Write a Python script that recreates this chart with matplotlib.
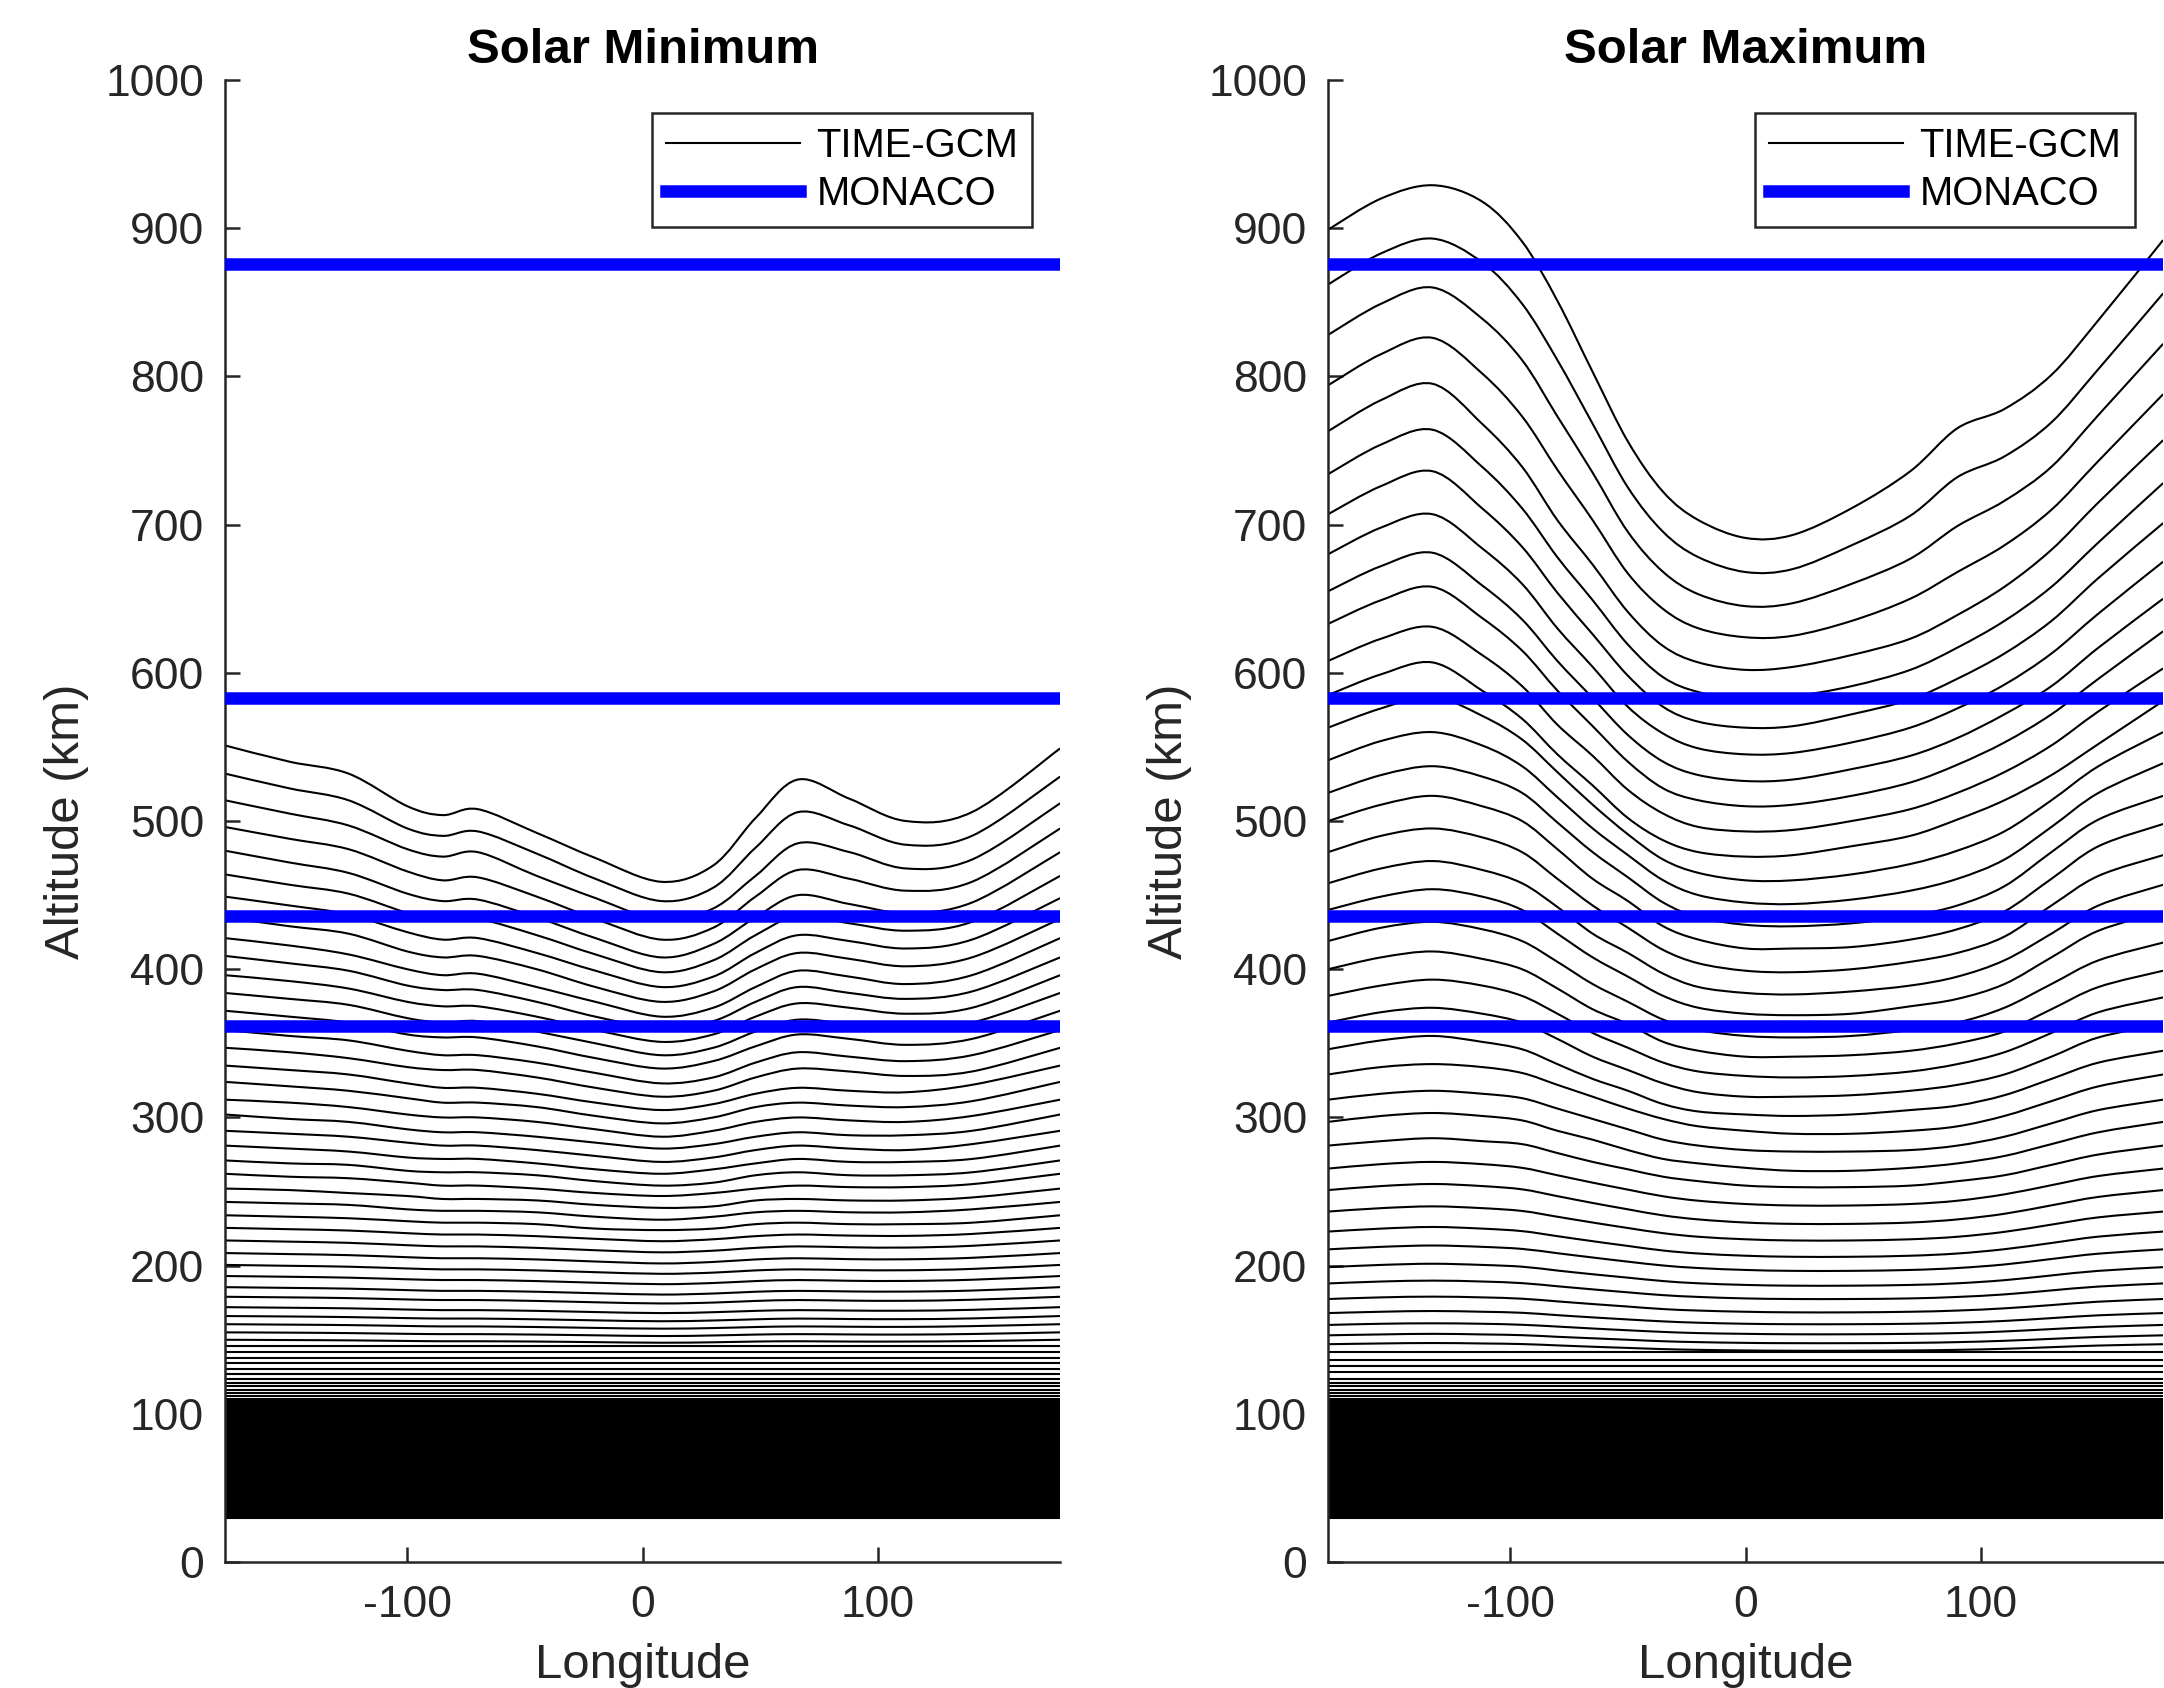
import matplotlib
matplotlib.use("Agg")
import matplotlib.pyplot as plt
from matplotlib.lines import Line2D
from matplotlib.path import Path
from matplotlib.patches import PathPatch

plt.rcParams["font.family"] = ["Liberation Sans", "DejaVu Sans"]
plt.rcParams["axes.unicode_minus"] = False

lon_min = [-177.5, -150, -125, -100, -85, -70, -45, -20, 8, 30, 48, 66, 88, 112, 140, 177.5]
lon_max = [-177.5, -155, -133, -112, -95, -80, -65, -50, -35, -20, 0, 20, 45, 70, 90, 110, 130, 150, 177.5]

# solar minimum: altitude (km) of each wavy pressure level along lon_min
alt_min = [
    [551, 540, 532, 510, 504, 508, 492, 475, 459, 470, 502, 528, 515, 500, 506, 549],
    [532, 522, 514, 495, 490, 493, 478, 461, 446, 455, 482, 506, 497, 484, 490, 530],
    [514, 505, 497, 481, 476, 479, 463, 448, 433, 441, 463, 485, 479, 468, 474, 512],
    [496, 488, 481, 466, 460, 462, 449, 434, 420, 428, 449, 467, 461, 453, 459, 495],
    [480, 472, 465, 451, 446, 447, 435, 421, 408, 417, 435, 450, 444, 438, 445, 479],
    [464, 457, 451, 438, 433, 434, 423, 410, 398, 406, 423, 436, 431, 426, 432, 463],
    [449, 443, 437, 425, 420, 421, 411, 399, 388, 395, 411, 423, 419, 414, 420, 448],
    [435, 429, 424, 412, 408, 409, 400, 388, 378, 385, 400, 411, 407, 402, 408, 434],
    [421, 416, 410, 400, 396, 397, 388, 378, 368, 374, 388, 399, 395, 390, 396, 421],
    [409, 404, 399, 389, 386, 386, 378, 368, 360, 365, 378, 388, 384, 380, 385, 408],
    [396, 392, 387, 378, 375, 375, 368, 359, 351, 356, 368, 377, 374, 370, 374, 396],
    [384, 380, 376, 367, 364, 365, 358, 350, 342, 347, 358, 366, 363, 360, 364, 384],
    [372, 368, 364, 356, 354, 354, 348, 340, 333, 338, 348, 356, 353, 349, 353, 372],
    [359, 355, 352, 345, 342, 342, 337, 330, 323, 327, 337, 344, 341, 338, 342, 359],
    [347, 344, 340, 334, 332, 332, 327, 320, 314, 318, 327, 333, 331, 328, 331, 347],
    [335, 332, 329, 323, 320, 320, 316, 310, 305, 309, 316, 320, 318, 317, 322, 335],
    [324, 321, 318, 313, 310, 310, 307, 301, 296, 300, 307, 310, 308, 307, 311, 324],
    [312, 310, 307, 302, 300, 300, 297, 292, 287, 291, 297, 300, 298, 297, 301, 312],
    [302, 299, 297, 292, 290, 290, 287, 283, 279, 282, 287, 290, 288, 288, 291, 302],
    [291, 289, 287, 283, 281, 281, 278, 274, 270, 273, 278, 281, 279, 278, 282, 291],
    [281, 279, 277, 273, 272, 272, 269, 265, 262, 265, 269, 272, 270, 270, 272, 281],
    [271, 269, 268, 264, 263, 263, 261, 257, 254, 256, 261, 263, 261, 261, 263, 271],
    [262, 260, 259, 256, 254, 254, 252, 249, 247, 249, 252, 254, 253, 253, 255, 262],
    [252, 251, 249, 247, 245, 245, 244, 241, 239, 240, 244, 245, 244, 244, 246, 252],
    [243, 242, 241, 238, 237, 237, 236, 233, 231, 233, 236, 237, 236, 236, 238, 243],
    [234, 233, 232, 230, 229, 229, 228, 225, 224, 225, 228, 229, 228, 228, 229, 234],
    [225.5, 224.6, 223.7, 221.9, 221, 221, 219.9, 218.1, 216.5, 217.8, 219.9, 221, 220.3, 220.1, 221.4, 225.5],
    [217, 216.2, 215.4, 213.8, 213, 213, 212, 210.4, 209, 210.1, 212, 213, 212.4, 212.2, 213.4, 217],
    [208.5, 207.8, 207.1, 205.7, 205, 205, 204.2, 202.8, 201.5, 202.5, 204.2, 205, 204.4, 204.3, 205.3, 208.5],
    [200.5, 199.9, 199.3, 198.1, 197.5, 197.5, 196.8, 195.6, 194.5, 195.3, 196.8, 197.5, 197, 196.9, 197.8, 200.5],
    [193, 192.5, 191.9, 190.8, 190.3, 190.3, 189.6, 188.5, 187.5, 188.3, 189.6, 190.3, 189.8, 189.7, 190.5, 193],
    [185.5, 185, 184.5, 183.5, 183, 183, 182.4, 181.4, 180.5, 181.2, 182.4, 183, 182.6, 182.5, 183.2, 185.5],
    [179, 178.6, 178.1, 177.2, 176.8, 176.8, 176.2, 175.3, 174.5, 175.1, 176.2, 176.8, 176.4, 176.3, 177, 179],
    [172, 171.6, 171.2, 170.4, 170, 170, 169.5, 168.7, 168, 168.6, 169.5, 170, 169.7, 169.6, 170.2, 172],
    [166, 165.7, 165.3, 164.6, 164.3, 164.3, 163.8, 163.1, 162.5, 163, 163.8, 164.3, 164, 163.9, 164.4, 166],
    [160.5, 160.2, 159.9, 159.3, 159, 159, 158.6, 158, 157.5, 157.9, 158.6, 159, 158.8, 158.7, 159.2, 160.5],
    [155, 154.8, 154.5, 154, 153.8, 153.8, 153.5, 153, 152.5, 152.9, 153.5, 153.8, 153.6, 153.5, 153.9, 155],
    [150, 149.8, 149.6, 149.2, 149, 149, 148.8, 148.4, 148, 148.3, 148.8, 149, 148.8, 148.8, 149.1, 150],
]

# solar maximum: altitude (km) of each wavy pressure level along lon_max
alt_max = [
    [899, 920, 929, 918, 891, 851, 803, 756, 722, 703, 691, 693, 711, 736, 765, 778, 801, 838, 892],
    [862, 883, 893, 877, 849, 811, 768, 725, 695, 678, 668, 670, 686, 706, 732, 746, 769, 805, 856],
    [828, 849, 860, 839, 811, 773, 735, 695, 668, 653, 645, 647, 660, 677, 699, 716, 739, 774, 822],
    [794, 815, 826, 802, 773, 737, 703, 667, 643, 630, 624, 625, 635, 650, 668, 686, 710, 743, 788],
    [763, 784, 795, 768, 739, 703, 673, 641, 618, 607, 602, 604, 612, 623, 639, 658, 683, 715, 757],
    [734, 754, 764, 739, 711, 678, 649, 619, 597, 587, 582, 584, 591, 602, 617, 635, 658, 688, 728],
    [707, 726, 736, 711, 685, 654, 626, 598, 577, 567, 563, 564, 572, 582, 596, 613, 635, 664, 701],
    [680, 698, 707, 684, 660, 630, 604, 577, 559, 549, 545, 546, 553, 563, 576, 592, 613, 640, 675],
    [655, 672, 681, 659, 636, 608, 583, 558, 540, 531, 527, 528, 535, 544, 556, 572, 591, 617, 650],
    [633, 649, 658, 637, 615, 588, 564, 540, 522, 514, 510, 511, 517, 526, 538, 553, 572, 596, 628],
    [608, 623, 631, 612, 591, 565, 544, 521, 505, 496, 493, 494, 500, 508, 519, 533, 551, 574, 603],
    [585, 599, 607, 588, 569, 545, 524, 502, 487, 479, 476, 477, 483, 490, 501, 514, 531, 552, 581],
    [563, 576, 584, 571, 555, 533, 511, 491, 474, 465, 460, 460, 464, 471, 480, 493, 514, 537, 560],
    [541, 554, 560, 551, 537, 516, 495, 477, 460, 450, 445, 444, 447, 453, 461, 474, 496, 519, 539],
    [519, 531, 537, 530, 519, 499, 479, 462, 445, 435, 430, 429, 431, 436, 443, 456, 479, 501, 517],
    [500, 511, 517, 510, 500, 481, 461, 446, 429, 420, 414, 414, 415, 420, 427, 439, 461, 483, 498],
    [479, 490, 495, 489, 479, 461, 443, 428, 413, 404, 399, 398, 400, 405, 411, 422, 443, 463, 477],
    [458, 468, 473, 467, 458, 442, 424, 411, 397, 388, 384, 383, 385, 389, 395, 406, 424, 443, 457],
    [440, 449, 454, 449, 440, 424, 408, 395, 382, 374, 370, 369, 370, 375, 380, 390, 408, 426, 439],
    [419, 428, 432, 427, 419, 405, 390, 378, 366, 359, 355, 354, 355, 359, 364, 374, 390, 406, 418],
    [400, 408, 412, 407, 400, 387, 373, 363, 351, 345, 341, 341, 342, 345, 350, 358, 373, 388, 399],
    [382, 389, 393, 389, 382, 370, 357, 347, 337, 331, 328, 327, 328, 331, 336, 344, 357, 371, 381],
    [364, 371, 374, 370, 364, 353, 341, 332, 323, 317, 314, 314, 315, 318, 322, 329, 341, 354, 363],
    [346, 352, 355, 351, 346, 336, 326, 318, 309, 304, 302, 301, 302, 305, 308, 315, 326, 337, 345],
    [329, 334, 336, 334, 330, 322, 314, 306, 299, 294, 291, 289, 289, 291, 294, 301, 311, 321, 329],
    [312, 316, 318, 316, 313, 306, 299, 292, 285, 281, 278, 277, 277, 278, 281, 287, 296, 305, 312],
    [297, 301, 303, 301, 298, 291, 285, 278, 272, 269, 266, 264, 264, 266, 269, 274, 282, 290, 297],
    [281, 284, 286, 284, 282, 276, 270, 265, 260, 257, 254, 253, 253, 254, 257, 261, 268, 275, 281],
    [265.5, 268.5, 270, 268.5, 266, 261, 256, 251.3, 246.8, 243.8, 241.6, 240.6, 240.6, 241.6, 243.8, 248.1, 254.3, 260.5, 265.5],
    [251, 253.7, 255.1, 253.7, 251.5, 246.9, 242.3, 238, 233.9, 231.2, 229.1, 228.2, 228.2, 229.1, 231.2, 235, 240.7, 246.4, 251],
    [236.5, 238.8, 240, 238.8, 236.9, 233, 229.1, 225.4, 221.9, 219.5, 217.8, 217, 217, 217.8, 219.5, 222.8, 227.7, 232.6, 236.5],
    [223, 225, 226.1, 225, 223.3, 219.9, 216.5, 213.3, 210.2, 208.2, 206.7, 206, 206, 206.7, 208.2, 211.1, 215.3, 219.6, 223],
    [211, 212.7, 213.6, 212.7, 211.3, 208.4, 205.5, 202.7, 200.1, 198.4, 197.1, 196.5, 196.5, 197.1, 198.4, 200.8, 204.5, 208.1, 211],
    [199, 200.5, 201.3, 200.5, 199.3, 196.7, 194.2, 191.9, 189.6, 188.1, 187, 186.5, 186.5, 187, 188.1, 190.2, 193.4, 196.5, 199],
    [188, 189.3, 189.9, 189.3, 188.2, 186.1, 184, 182, 180.1, 178.9, 177.9, 177.5, 177.5, 177.9, 178.9, 180.6, 183.3, 185.9, 188],
    [177.5, 178.6, 179.1, 178.6, 177.7, 175.9, 174.1, 172.4, 170.7, 169.7, 168.9, 168.5, 168.5, 168.9, 169.7, 171.2, 173.4, 175.7, 177.5],
    [168, 168.9, 169.4, 168.9, 168.2, 166.6, 165.1, 163.7, 162.4, 161.5, 160.8, 160.5, 160.5, 160.8, 161.5, 162.7, 164.6, 166.5, 168],
    [160, 160.8, 161.1, 160.8, 160.1, 158.9, 157.6, 156.4, 155.3, 154.5, 154, 153.7, 153.7, 154, 154.5, 155.6, 157.2, 158.7, 160],
    [153, 153.6, 154, 153.6, 153.1, 152, 151, 150, 149, 148.4, 147.9, 147.7, 147.7, 147.9, 148.4, 149.3, 150.6, 151.9, 153],
    [147, 147.5, 147.8, 147.5, 147.1, 146.2, 145.3, 144.5, 143.7, 143.2, 142.8, 142.6, 142.6, 142.8, 143.2, 143.9, 145, 146.1, 147],
]

# nearly flat levels just above the packed lower atmosphere
flat_min = [145.5, 141.5, 138, 134, 130.5, 127]
flat_max = [141.5, 136.5, 132, 128]

# packed lower-atmosphere levels (same in both runs)
lower_levels = [123.7, 121.0, 118.5, 116.2, 114.0, 112.0, 110.2, 109.0, 107.8, 106.6,
                105.4, 104.2, 103.0, 101.8, 100.6, 99.4, 98.2, 97.0, 95.8, 94.6,
                93.4, 92.2, 91.0, 89.8, 88.6, 87.4, 86.2, 85.0, 83.8, 82.6,
                81.4, 80.2, 79.0, 77.8, 76.6, 75.4, 74.2, 73.0, 71.8, 70.6,
                69.4, 68.2, 67.0, 65.8, 64.6, 63.4, 62.2, 61.0, 59.8, 58.5,
                57.3, 56.0, 54.8, 53.5, 52.3, 51.0, 49.8, 48.5, 47.3, 46.0,
                44.8, 43.5, 42.3, 41.0, 39.8, 38.5, 37.3, 36.0, 34.8, 33.5,
                32.3, 31.0, 29.5]

# MONACO shells (km)
monaco_alt = [876, 583, 436, 362]

AX_COL = "#262626"


def smooth_path(xs, ys):
    # Catmull-Rom curve through the read points, drawn as cubic Beziers
    pts = list(zip(xs, ys))
    n = len(pts)
    verts, codes = [pts[0]], [Path.MOVETO]
    for i in range(n - 1):
        p0 = pts[i - 1] if i > 0 else pts[i]
        p1, p2 = pts[i], pts[i + 1]
        p3 = pts[i + 2] if i + 2 < n else pts[i + 1]
        c1 = (p1[0] + (p2[0] - p0[0]) / 6, p1[1] + (p2[1] - p0[1]) / 6)
        c2 = (p2[0] - (p3[0] - p1[0]) / 6, p2[1] - (p3[1] - p1[1]) / 6)
        verts += [c1, c2, p2]
        codes += [Path.CURVE4] * 3
    return Path(verts, codes)


def draw_panel(ax, title, lon, levels, flats):
    for row in levels:
        ax.add_patch(PathPatch(smooth_path(lon, row), fill=False,
                               edgecolor="k", lw=0.5, zorder=2))
    for z in flats + lower_levels:
        ax.plot([lon[0], lon[-1]], [z, z], color="k", lw=0.5, zorder=2)
    for z in monaco_alt:
        ax.axhline(z, color="#0000ff", lw=3, zorder=3)

    ax.set_xlim(lon[0], lon[-1])
    ax.set_ylim(0, 1000)
    ax.set_xticks([-100, 0, 100])
    ax.set_yticks(range(0, 1001, 100))
    for side in ("top", "right"):
        ax.spines[side].set_visible(False)
    for side in ("left", "bottom"):
        ax.spines[side].set_color(AX_COL)
        ax.spines[side].set_linewidth(0.6)
    ax.tick_params(direction="in", length=3.7, width=0.6, colors=AX_COL,
                   labelsize=10.7, top=False, right=False)
    ax.tick_params(axis="x", pad=5.5)
    ax.tick_params(axis="y", pad=5)
    ax.set_title(title, fontsize=11.8, fontweight="bold", pad=4)
    ax.set_xlabel("Longitude", fontsize=11.8, color=AX_COL, labelpad=4)
    ax.set_ylabel("Altitude (km)", fontsize=11.8, color=AX_COL, labelpad=4)

    handles = [Line2D([], [], color="k", lw=0.5),
               Line2D([], [], color="#0000ff", lw=3)]
    leg = ax.legend(handles, ["TIME-GCM", "MONACO"], loc="upper right",
                    bbox_to_anchor=(0.9665, 0.9777), borderaxespad=0,
                    fontsize=9.6, handlelength=3.35, handletextpad=0.4,
                    labelspacing=0.25, borderpad=0.35, fancybox=False,
                    framealpha=1, edgecolor=AX_COL)
    leg.get_frame().set_linewidth(0.6)
    leg.set_zorder(5)


fig = plt.figure(figsize=(2164 / 300, 1688 / 300), dpi=300)
ax1 = fig.add_axes([0.104, 0.0746, 0.3859, 0.878])
ax2 = fig.add_axes([0.6137, 0.0746, 0.3859, 0.878])

draw_panel(ax1, "Solar Minimum", lon_min, alt_min, flat_min)
draw_panel(ax2, "Solar Maximum", lon_max, alt_max, flat_max)

fig.savefig("out.png", dpi=300)
